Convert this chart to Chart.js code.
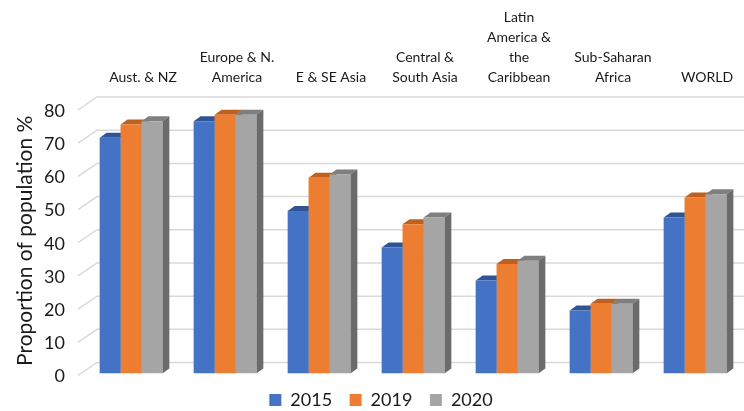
<!DOCTYPE html>
<html>
<head>
<meta charset="utf-8">
<script src="https://cdn.jsdelivr.net/npm/chart.js@4/dist/chart.umd.min.js"></script>
<style>
  html, body { margin: 0; padding: 0; background: #fff; }
  #wrap { width: 744px; height: 411px; position: relative; }
</style>
</head>
<body>
<div id="wrap"><canvas id="chart"></canvas></div>
<script>
const regions = [
  ["Aust. & NZ"],
  ["Europe & N.", "America"],
  ["E & SE Asia"],
  ["Central &", "South Asia"],
  ["Latin", "America &", "the", "Caribbean"],
  ["Sub-Saharan", "Africa"],
  ["WORLD"]
];
const years = ["2015", "2019", "2020"];
const values2015 = [71, 76, 49, 38, 28, 19, 47];
const values2019 = [75, 78, 59, 45, 33, 21, 53];
const values2020 = [76, 78, 60, 47, 34, 21, 54];
const yMax = 80;
const yStep = 10;

const frontColors = ["#4472C4", "#ED7D31", "#A5A5A5"];
const topColors = ["#2F5597", "#C0601E", "#7F7F7F"];
const sideColors = ["#2B4E8C", "#A9561C", "#6B6B6B"];

// fake 3d: back wall grid + bar tops and right sides, fronts are drawn by chart.js on top
const DX = 7, DY = 5;
const depthPlugin = {
  id: "depth",
  beforeDatasetsDraw(chart) {
    const ctx = chart.ctx;
    const yScale = chart.scales.y;
    const area = chart.chartArea;
    ctx.save();
    ctx.strokeStyle = "#d9d9d9";
    ctx.lineWidth = 1.5;
    yScale.ticks.forEach((t) => {
      const py = yScale.getPixelForValue(t.value);
      ctx.beginPath();
      ctx.moveTo(area.left - 6, py + 2);
      ctx.lineTo(area.left + 13, py - 11);
      ctx.lineTo(chart.width, py - 11);
      ctx.stroke();
    });

    chart.data.datasets.forEach((ds, i) => {
      const meta = chart.getDatasetMeta(i);
      meta.data.forEach((bar) => {
        const { x, y, width, base } = bar.getProps(["x", "y", "width", "base"], true);
        const l = x - width / 2;
        const r = x + width / 2;
        ctx.fillStyle = topColors[i];
        ctx.beginPath();
        ctx.moveTo(l, y);
        ctx.lineTo(l + DX, y - DY);
        ctx.lineTo(r + DX, y - DY);
        ctx.lineTo(r, y);
        ctx.closePath();
        ctx.fill();
        ctx.fillStyle = sideColors[i];
        ctx.beginPath();
        ctx.moveTo(r, y);
        ctx.lineTo(r + DX, y - DY);
        ctx.lineTo(r + DX, base - DY);
        ctx.lineTo(r, base);
        ctx.closePath();
        ctx.fill();
      });
    });
    ctx.restore();
  }
};

const textColor = "#1a1a1a";
const fontFamily = "Lato, 'Liberation Sans', sans-serif";

new Chart(document.getElementById("chart"), {
  type: "bar",
  data: {
    labels: regions,
    datasets: [
      { label: years[0], data: values2015, backgroundColor: frontColors[0] },
      { label: years[1], data: values2019, backgroundColor: frontColors[1] },
      { label: years[2], data: values2020, backgroundColor: frontColors[2] }
    ]
  },
  options: {
    responsive: true,
    maintainAspectRatio: false,
    animation: false,
    categoryPercentage: 0.667,
    barPercentage: 1.0,
    layout: { padding: { left: 20, right: 2, top: 0, bottom: -8 } },
    plugins: {
      tooltip: { enabled: false },
      legend: {
        position: "bottom",
        labels: {
          boxWidth: 12,
          boxHeight: 12,
          padding: 17.5,
          color: textColor,
          font: { family: fontFamily, size: 18 }
        }
      }
    },
    scales: {
      x: {
        position: "top",
        grid: { display: false, drawTicks: false },
        border: { display: false },
        ticks: {
          autoSkip: false,
          maxRotation: 0,
          padding: 21,
          labelOffset: 12,
          color: textColor,
          font: { family: fontFamily, size: 14, lineHeight: "20px" }
        },
        afterFit(scale) { scale.height = 108; }
      },
      y: {
        min: 0,
        max: yMax,
        grid: { display: false, drawTicks: false },
        border: { display: false },
        ticks: {
          stepSize: yStep,
          padding: 19,
          labelOffset: 3,
          color: textColor,
          font: { family: fontFamily, size: 18 }
        },
        title: {
          display: true,
          text: "Proportion of population %",
          color: textColor,
          padding: { top: -7, bottom: 0 },
          font: { family: fontFamily, size: 21 }
        },
        afterFit(scale) { scale.width = 64; }
      }
    }
  },
  plugins: [depthPlugin]
});
</script>
</body>
</html>
